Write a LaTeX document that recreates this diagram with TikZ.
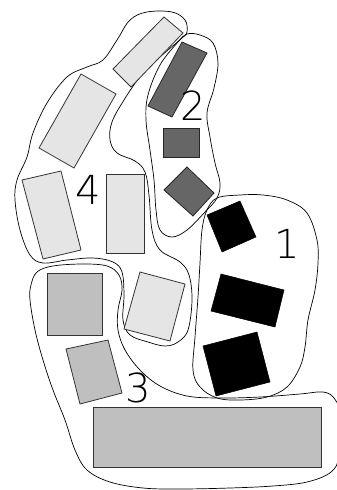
\documentclass[tikz,border=0pt]{standalone}
\usepackage{fontspec}
\newfontfamily\thinfont{DejaVuSans-ExtraLight.ttf}
\begin{document}
\begin{tikzpicture}[x=1pt,y=-1pt,
  blob/.style={draw=black,line width=0.7pt},
  lightbox/.style={fill=black!10,draw=black!80,line width=0.8pt},
  midbox/.style={fill=black!25,draw=black!80,line width=0.8pt},
  darkbox/.style={fill=black!60,draw=black!85,line width=0.8pt},
  blackbox/.style={fill=black,draw=black,line width=0.5pt},
  lbl/.style={inner sep=0pt,anchor=base,font=\fontsize{40}{40}\selectfont\thinfont}]
\useasboundingbox (0,0) rectangle (337,490);
\begin{scope}
\clip (0,0) rectangle (337,490);
% group 4 outline
\draw[blob] plot[smooth cycle,tension=0.6] coordinates {
(130,20) (147,12) (172,12) (185,20) (187,32) (182,38) (160,57) (140,77)
(124,100) (112,122) (110,140) (117,153) (135,161) (145,172) (149,195)
(152,230) (160,250) (180,262) (189,275) (192,300) (188,330) (178,342)
(165,346) (148,342) (130,335) (123,320) (124,295) (122,272) (113,262)
(93,258) (67,260) (43,263) (30,255) (20,230) (15,200) (17,180) (27,157)
(33,133) (47,103) (67,77) (87,67) (103,60) (117,40)};
% group 2 outline
\draw[blob] plot[smooth cycle,tension=0.6] coordinates {
(187,34) (200,35) (213,43) (218,63) (214,88) (207,113) (210,137) (215,163)
(220,183) (217,198) (205,212) (187,230) (172,237) (160,230) (156,210)
(154,180) (150,150) (146,120) (148,95) (160,65) (178,42)};
% group 1 outline
\draw[blob] plot[smooth cycle,tension=0.6] coordinates {
(217,198) (240,195) (263,195) (287,200) (307,213) (317,240) (318,263)
(315,290) (308,320) (305,347) (300,367) (287,387) (267,397) (240,400)
(217,398) (200,387) (193,370) (195,337) (198,297) (200,263) (202,230)
(207,210)};
% group 3 outline
\draw[blob] plot[smooth cycle,tension=0.6] coordinates {
(37,272) (53,266) (83,264) (107,266) (119,275) (122,290) (118,310)
(118,330) (125,350) (140,370) (160,386) (187,396) (220,398) (260,397)
(300,394) (323,392) (334,398) (339,412) (339,455) (331,472) (307,482)
(273,486) (230,488) (180,489) (143,488) (110,482) (87,470) (75,450)
(65,420) (53,390) (43,360) (35,330) (30,300) (31,285)};
\end{scope}
% group 4 boxes
\filldraw[lightbox] (164,17) -- (183,33) -- (131,87) -- (113,69) -- cycle;
\filldraw[lightbox] (81,74) -- (116,94) -- (74,168) -- (39,148) -- cycle;
\filldraw[lightbox] (22,180) -- (61,171) -- (81,250) -- (43,259) -- cycle;
\filldraw[lightbox] (106,174) rectangle (144,253);
\filldraw[lightbox] (140,272) -- (185,284) -- (170,341) -- (124,329) -- cycle;
% group 2 boxes
\filldraw[darkbox] (182,42) -- (207,53) -- (172,117) -- (148,106) -- cycle;
\filldraw[darkbox] (163,128) rectangle (199,157);
\filldraw[darkbox] (187,167) -- (214,193) -- (193,216) -- (164,190) -- cycle;
% group 1 boxes
\filldraw[blackbox] (207,215) -- (240,201) -- (256,237) -- (222,252) -- cycle;
\filldraw[blackbox] (221,274) -- (284,290) -- (275,327) -- (211,311) -- cycle;
\filldraw[blackbox] (203,346) -- (257,332) -- (270,382) -- (216,396) -- cycle;
% group 3 boxes
\filldraw[midbox] (47,273) rectangle (102,335);
\filldraw[midbox] (66,349) -- (108,340) -- (122,393) -- (80,404) -- cycle;
\filldraw[midbox] (93,407) rectangle (321,467);
% labels (baseline positions)
\node[lbl] (l1) at (287,258) {1};
\node[lbl] (l2) at (193,120) {2};
\node[lbl] (l3) at (138,402) {3};
\node[lbl] (l4) at (88,204) {4};
\end{tikzpicture}
\end{document}
